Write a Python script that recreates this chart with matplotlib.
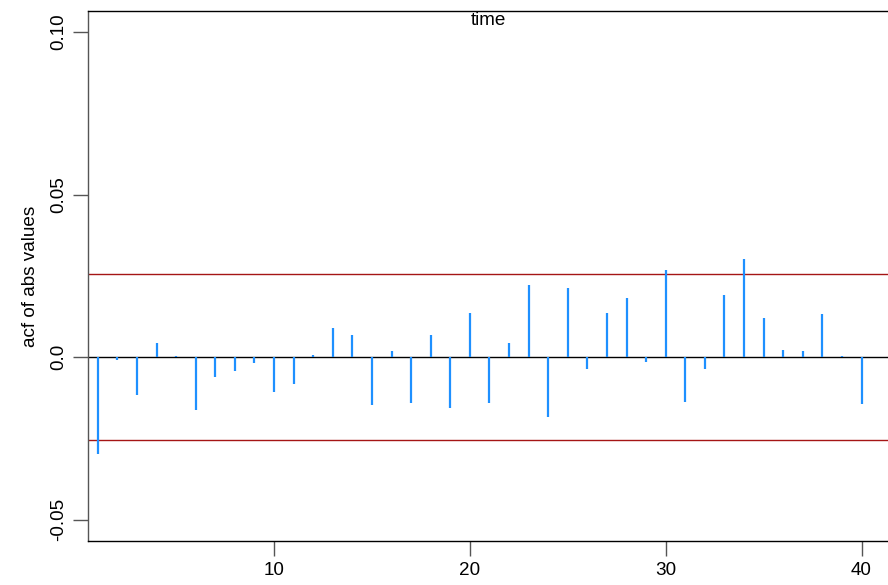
import matplotlib
matplotlib.use('Agg')
import matplotlib.pyplot as plt

plt.rcParams['font.family'] = ['Liberation Sans', 'DejaVu Sans']

# acf of abs values, lags 1..40
lags = list(range(1, 41))
acf_vals = [
	-0.0298, -0.0008, -0.0116, 0.0045, 0.0005, -0.0162, -0.0061, -0.0042, -0.0017, -0.0106,
	-0.0083, 0.0008, 0.0089, 0.0068, -0.0146, 0.0018, -0.0141, 0.0070, -0.0155, 0.0135,
	-0.0142, 0.0045, 0.0221, -0.0185, 0.0212, -0.0035, 0.0137, 0.0181, -0.0014, 0.0267,
	-0.0137, -0.0035, 0.0193, 0.0301, 0.0120, 0.0022, 0.0018, 0.0132, 0.0003, -0.0143,
]
conf_bound = 0.0255
yticks = [-0.05, 0.0, 0.05, 0.10]
ytick_labels = ['-0.05', '0.0', '0.05', '0.10']
xticks = [10, 20, 30, 40]

fs = 13.6

fig = plt.figure(figsize=(8.88, 5.85), dpi=100)
ax = fig.add_axes([88 / 888, 1 - 541 / 585, 1 - 88 / 888, (541 - 11) / 585])

ax.vlines(lags, 0, acf_vals, colors='#1E90FF', linewidth=1.6, zorder=3)
ax.axhline(0, color='black', linewidth=1.0, zorder=2)
ax.axhline(conf_bound, color='#a51515', linewidth=1.0)
ax.axhline(-conf_bound, color='#a51515', linewidth=1.0)

ax.set_xlim(0.5, 41.35)
ax.set_ylim(-0.0565, 0.1065)
ax.set_xticks(xticks)
ax.set_yticks(yticks)
ax.set_yticklabels(ytick_labels, rotation=90, va='center')
ax.tick_params(axis='both', length=11, width=1.0, color='#555555', labelsize=fs, pad=4)
ax.tick_params(axis='x', pad=4)

ax.spines['right'].set_visible(False)
ax.spines['left'].set_color('#555555')
for side in ['left', 'top', 'bottom']:
	ax.spines[side].set_linewidth(1.0)

ax.set_ylabel('acf of abs values', fontsize=fs, labelpad=8)
ax.text(0.5, 0.999, 'time', transform=ax.transAxes, ha='center', va='top', fontsize=fs)

fig.savefig('out.png', dpi=100)
